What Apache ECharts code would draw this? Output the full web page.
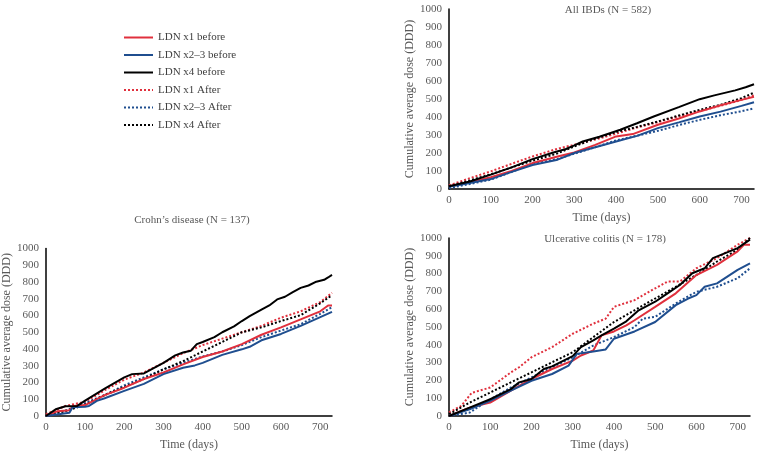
<!DOCTYPE html>
<html>
<head>
<meta charset="utf-8">
<script src="https://cdn.jsdelivr.net/npm/echarts@6/dist/echarts.min.js"></script>
<style>html,body{margin:0;padding:0;background:#fff}#c{width:757px;height:452px}</style>
</head>
<body>
<div id="c"></div>
<script>
const seriesNames = ['LDN x1 before','LDN x2\u20133 before','LDN x4 before','LDN x1 After','LDN x2\u20133 After','LDN x4 After'];
const panelTitles = ['All IBDs (N = 582)','Crohn\u2019s disease (N = 137)','Ulcerative colitis (N = 178)'];
const xTicks = [0,100,200,300,400,500,600,700];
const yTicks = [0,100,200,300,400,500,600,700,800,900,1000];

// All IBDs [day, DDD]
const ibd_x1_before = [[0,15],[50,38],[100,65],[150,100],[200,144],[260,181],[300,203],[350,245],[400,292],[440,305],[500,357],[550,392],[600,431],[650,465],[700,495],[730,512]];
const ibd_x23_before = [[0,12],[50,33],[100,55],[150,95],[200,133],[260,163],[300,200],[350,232],[400,264],[450,295],[500,338],[550,370],[600,403],[650,430],[700,462],[730,482]];
const ibd_x4_before = [[0,15],[50,42],[100,80],[150,120],[200,166],[250,203],[280,222],[300,242],[320,264],[360,290],[410,329],[450,365],[490,403],[550,455],[600,499],[635,520],[685,548],[710,565],[730,582]];
const ibd_x1_after = [[0,20],[50,60],[100,98],[150,140],[200,181],[260,224],[300,246],[350,275],[400,307],[450,342],[500,371],[550,405],[600,434],[650,462],[700,495],[730,520]];
const ibd_x23_after = [[0,5],[50,28],[100,52],[150,95],[200,139],[260,168],[300,196],[350,232],[400,270],[450,296],[500,323],[550,355],[600,384],[650,410],[700,432],[730,448]];
const ibd_x4_after = [[0,15],[50,48],[100,82],[150,120],[200,157],[260,198],[300,237],[350,280],[400,316],[450,345],[500,375],[550,408],[600,440],[650,468],[700,505],[730,535]];

// Crohn's disease
const cd_x1_before = [[0,0],[30,29],[60,35],[70,60],[100,65],[150,125],[200,169],[250,221],[300,260],[350,308],[400,352],[450,385],[500,429],[550,485],[600,529],[650,577],[700,625],[720,660],[730,660]];
const cd_x23_before = [[0,0],[60,19],[68,52],[100,55],[110,60],[130,90],[150,106],[200,150],[250,192],[300,250],[350,288],[380,302],[400,317],[450,365],[500,398],[520,413],[550,452],[600,490],[650,538],[700,590],[730,622]];
const cd_x4_before = [[0,0],[25,40],[50,58],[80,60],[100,92],[150,163],[200,231],[220,250],[250,254],[300,317],[330,362],[350,379],[370,390],[385,429],[400,442],[430,471],[450,500],[480,535],[500,567],[520,596],[550,635],[570,660],[590,696],[610,712],[630,740],[650,765],[670,779],[690,802],[710,813],[720,827],[730,842]];
const cd_x1_after = [[0,10],[50,60],[100,85],[150,154],[200,217],[250,260],[300,317],[350,375],[400,423],[450,462],[500,500],[550,538],[600,587],[650,625],[700,680],[730,735]];
const cd_x23_after = [[0,0],[50,33],[100,77],[150,125],[200,183],[250,231],[300,279],[350,317],[400,356],[450,385],[500,423],[550,471],[600,510],[650,548],[700,610],[730,650]];
const cd_x4_after = [[0,0],[50,29],[100,67],[150,125],[200,173],[250,221],[300,279],[350,327],[400,385],[450,442],[500,500],[550,529],[600,567],[650,602],[700,673],[730,721]];

// Ulcerative colitis
const uc_x1_before = [[0,0],[50,47],[100,75],[150,142],[200,208],[250,264],[300,311],[320,340],[350,368],[370,453],[400,475],[430,509],[450,538],[500,613],[550,689],[600,792],[650,849],[700,925],[715,962],[730,962]];
const uc_x23_before = [[0,0],[50,38],[100,85],[150,142],[200,198],[250,236],[290,283],[310,349],[350,362],[380,374],[400,434],[450,475],[500,528],[550,623],[580,660],[600,679],[620,726],[650,745],[700,821],[730,858]];
const uc_x4_before = [[0,0],[50,47],[100,94],[150,151],[170,189],[200,208],[230,264],[250,279],[300,336],[320,387],[350,425],[370,453],[400,491],[430,532],[460,594],[500,642],[530,689],[560,736],[590,802],[620,830],[640,887],[670,915],[700,943],[730,991]];
const uc_x1_after = [[0,20],[30,57],[55,130],[100,160],[150,245],[170,274],[200,330],[250,387],[300,462],[350,519],[380,547],[400,613],[450,651],[500,717],[530,755],[560,755],[600,830],[650,887],[700,962],[730,1000]];
const uc_x23_after = [[0,0],[50,19],[100,94],[150,160],[200,217],[250,274],[300,330],[350,396],[400,443],[450,500],[470,547],[500,557],[550,632],[600,698],[650,726],[700,774],[730,830]];
const uc_x4_after = [[0,10],[50,75],[100,132],[150,189],[200,245],[250,302],[300,358],[350,443],[400,528],[450,594],[500,660],[550,726],[600,792],[650,868],[700,934],[730,1000]];

const panels = [
  [ibd_x1_before, ibd_x23_before, ibd_x4_before, ibd_x1_after, ibd_x23_after, ibd_x4_after],
  [cd_x1_before, cd_x23_before, cd_x4_before, cd_x1_after, cd_x23_after, cd_x4_after],
  [uc_x1_before, uc_x23_before, uc_x4_before, uc_x1_after, uc_x23_after, uc_x4_after]
];

const colors = ['#E0303D','#1F4E8F','#000000','#E0303D','#1F4E8F','#000000'];
const types = ['solid','solid','solid','dotted','dotted','dotted'];
const FONT = 'Liberation Serif';
const TXT = '#595959';

const grids = [
  {left:449, top:9, width:306, height:180},
  {left:36, top:248.5, width:296, height:174},
  {left:449, top:238, width:301, height:178}
];

const xAxis = grids.map((g,i)=>({
  type:'value', gridIndex:i, min:0, max:730, interval:100,
  axisLine:{show:true, lineStyle:{color:'#000', width:1.5}},
  axisTick:{show:false}, splitLine:{show:false},
  axisLabel:{color:TXT, fontFamily:FONT, fontSize:11, margin:6,
    formatter:v=> xTicks.includes(v) ? String(v) : ''},
  name:'Time (days)', nameLocation:'middle', nameGap:23,
  nameTextStyle:{color:TXT, fontFamily:FONT, fontSize:12, fontWeight:'normal'}
}));
const yAxis = grids.map((g,i)=>({
  type:'value', gridIndex:i, min:0, max:1000, interval:100,
  axisLine:{show:true, lineStyle:{color:'#000', width:1.5}},
  axisTick:{show:false}, splitLine:{show:false},
  axisLabel:{color:TXT, fontFamily:FONT, fontSize:11, margin:7,
    formatter:v=> yTicks.includes(v) ? String(v) : ''},
  name:'Cumulative average dose (DDD)', nameLocation:'middle', nameGap:30,
  nameTextStyle:{color:TXT, fontFamily:FONT, fontSize:12, fontWeight:'normal'}
}));

const series = [];
panels.forEach((p,pi)=>{
  p.forEach((d,si)=>{
    series.push({
      type:'line', name:seriesNames[si], xAxisIndex:pi, yAxisIndex:pi,
      data:d, showSymbol:false, symbol:'none', smooth:false,
      lineStyle:{color:colors[si], width:2, type:types[si]},
      itemStyle:{color:colors[si]}, z: si<3 ? 3 : 2
    });
  });
});

const titles = [
  {text:panelTitles[0], left:603, top:0, textAlign:'center'},
  {text:panelTitles[1], left:187, top:210, textAlign:'center'},
  {text:panelTitles[2], left:600, top:229, textAlign:'center'}
].map(t=>Object.assign(t,{textStyle:{color:TXT, fontFamily:FONT, fontSize:11, fontWeight:'normal'}}));

const chart = echarts.init(document.getElementById('c'), null, {renderer:'canvas'});
chart.setOption({
  animation:false,
  backgroundColor:'#fff',
  title:titles,
  legend:{
    orient:'vertical', left:118, top:27, itemWidth:29, itemHeight:12, itemGap:6.5,
    data:seriesNames.map(n=>({name:n, itemStyle:{opacity:0}})),
    itemStyle:{opacity:0, borderWidth:0},
    textStyle:{color:'#404040', fontFamily:FONT, fontSize:11}
  },
  grid:grids,
  xAxis, yAxis, series
});
</script>
</body>
</html>
